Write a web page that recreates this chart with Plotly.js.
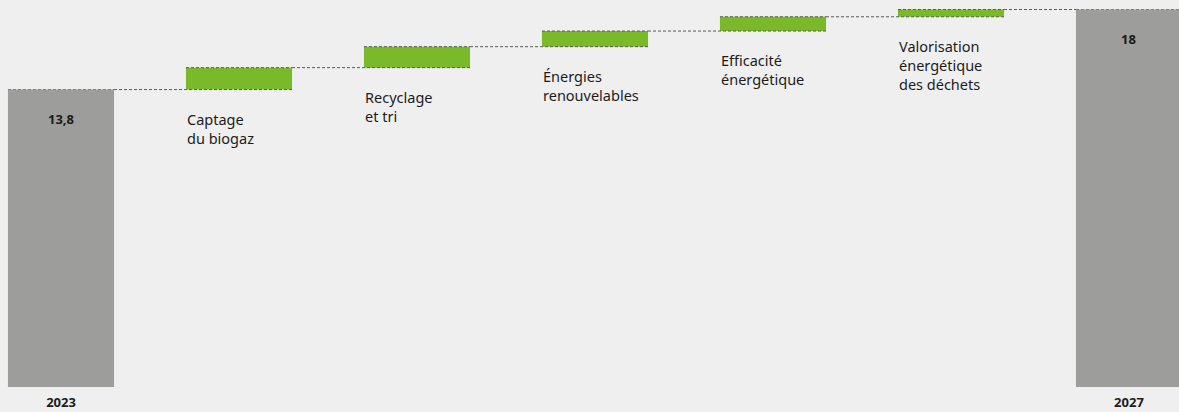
<!DOCTYPE html>
<html>
<head>
<meta charset="utf-8">
<script src="https://cdn.plot.ly/plotly-3.0.1.min.js"></script>
<style>
  html, body { margin: 0; padding: 0; background: #efefef; }
  #chart { width: 1179px; height: 412px; }
</style>
</head>
<body>
<div id="chart"></div>
<script>
// ---- Data ----
const categories = ['2023', 'Captage<br>du biogaz', 'Recyclage<br>et tri', 'Énergies<br>renouvelables', 'Efficacité<br>énergétique', 'Valorisation<br>énergétique<br>des déchets', '2027'];
const measures   = ['absolute', 'relative', 'relative', 'relative', 'relative', 'relative', 'total'];
const values     = [13.8, 1.15, 1.1, 0.82, 0.75, 0.38, null];
const yearTicks  = ['2023', '2027'];

// ---- Style ----
const GRAY = '#9d9d9b';
const GREEN = '#7ab929';
const BG = '#efefef';
const TEXT = '#1c1c1c';
const FONT = 'Noto Sans, Open Sans, sans-serif';
const Y_MIN = -1.81, Y_MAX = 18.5;   // axis range: total bars run down to the bottom of the plot
const GAP = 0.404;
const HALF_BAR_PX = 53;

// cumulative levels (for total bars and label placement)
const levels = [];
let run = 0;
categories.forEach((c, i) => {
  if (measures[i] === 'absolute') { levels.push({bottom: 0, top: values[i]}); run = values[i]; }
  else if (measures[i] === 'total') { levels.push({bottom: 0, top: run}); }
  else { levels.push({bottom: run, top: run + values[i]}); run += values[i]; }
});

const fmt = v => String(Number(v.toFixed(1))).replace('.', ',');
const totalIdx = measures.map((m, i) => m !== 'relative' ? i : -1).filter(i => i >= 0);

// waterfall gives increments and connectors; totals drawn by the bar trace below
const waterfall = {
  type: 'waterfall',
  x: categories,
  y: values,
  measure: measures,
  increasing: { marker: { color: GREEN, line: { width: 0 } } },
  decreasing: { marker: { color: '#c0392b', line: { width: 0 } } },
  totals: { marker: { color: 'rgba(0,0,0,0)', line: { width: 0 } } },
  connector: { mode: 'spanning', line: { color: '#5a5a5a', width: 1, dash: '3px,2px' } },
  textinfo: 'none',
  hoverinfo: 'skip',
  showlegend: false
};

// total bars, running from the bottom of the axis up to the total value
const totalsBars = {
  type: 'bar',
  x: totalIdx.map(i => categories[i]),
  y: totalIdx.map(i => levels[i].top - Y_MIN),
  base: Y_MIN,
  width: 1 - GAP,
  marker: { color: GRAY, line: { width: 0 } },
  hoverinfo: 'skip',
  showlegend: false
};

const annotations = [];
categories.forEach((c, i) => {
  if (measures[i] === 'relative') {
    annotations.push({
      x: i, y: levels[i].bottom, xref: 'x', yref: 'y',
      text: c, showarrow: false, align: 'left',
      xanchor: 'left', yanchor: 'top', xshift: -HALF_BAR_PX - 1, yshift: -17,
      font: { family: FONT, size: 14.5, color: TEXT }
    });
  } else {
    annotations.push({
      x: i, y: levels[i].top, xref: 'x', yref: 'y',
      text: '<b>' + fmt(levels[i].top) + '</b>', showarrow: false,
      xanchor: 'center', yanchor: 'top', yshift: -18,
      font: { family: FONT, size: 13, color: TEXT }
    });
  }
});

const layout = {
  width: 1179, height: 412,
  margin: { l: 0, r: 0, t: 0, b: 25, pad: 0 },
  paper_bgcolor: BG, plot_bgcolor: BG,
  waterfallgap: GAP, bargap: GAP,
  showlegend: false,
  xaxis: {
    type: 'category',
    categoryorder: 'array', categoryarray: categories,
    range: [-0.3427, 6.281],
    tickvals: yearTicks, ticktext: yearTicks.map(t => '<b>' + t + '</b>'),
    tickfont: { family: FONT, size: 13, color: TEXT },
    ticklabelstandoff: 6,
    ticks: '', showgrid: false, zeroline: false, showline: false,
    fixedrange: true
  },
  yaxis: {
    range: [Y_MIN, Y_MAX],
    visible: false, showgrid: false, zeroline: false, fixedrange: true
  },
  annotations: annotations
};

Plotly.newPlot('chart', [totalsBars, waterfall], layout, { displayModeBar: false, staticPlot: true });
</script>
</body>
</html>
